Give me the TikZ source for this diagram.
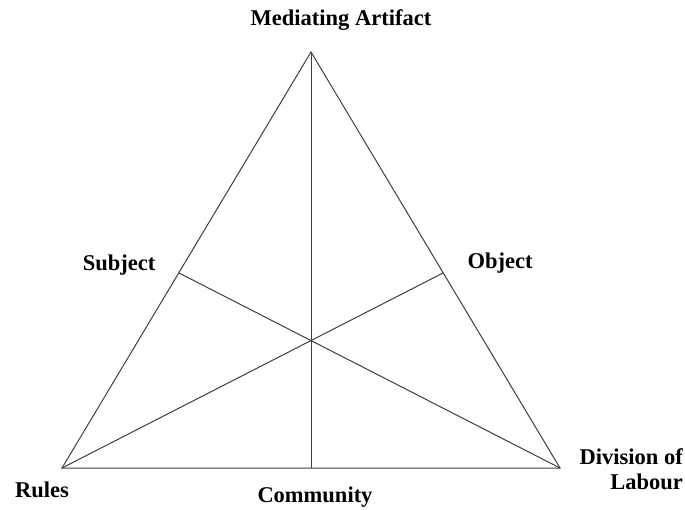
\documentclass[tikz,border=0pt]{standalone}
\usepackage{fontspec}
\setmainfont{Liberation Serif}
\begin{document}
\begin{tikzpicture}[x=1pt,y=-1pt,
  edge/.style={draw=black!75,line width=1pt},
  lbl/.style={font=\fontsize{22.5}{25}\selectfont\bfseries,inner sep=0pt}]
\useasboundingbox[fill=white] (0,0) rectangle (685,510);
\coordinate (A) at (311,52);
\coordinate (L) at (62,468);
\coordinate (R) at (560,468);
\coordinate (S) at (179,273);
\coordinate (O) at (443,273);
\coordinate (C) at (311,468);
\draw[edge] (A) -- (L) -- (R) -- cycle;
\draw[edge] (A) -- (C);
\draw[edge] (S) -- (R);
\draw[edge] (O) -- (L);
\node[lbl] (tA) at (341,20) {Mediating Artifact};
\node[lbl] (tS) at (119,265) {Subject};
\node[lbl] (tO) at (500,263) {Object};
\node[lbl] (tL) at (42,490) {Rules};
\node[lbl] (tC) at (315,497) {Community};
\node[lbl,align=right,anchor=east] (tR) at (683,469) {Division of\\Labour};
\end{tikzpicture}
\end{document}
